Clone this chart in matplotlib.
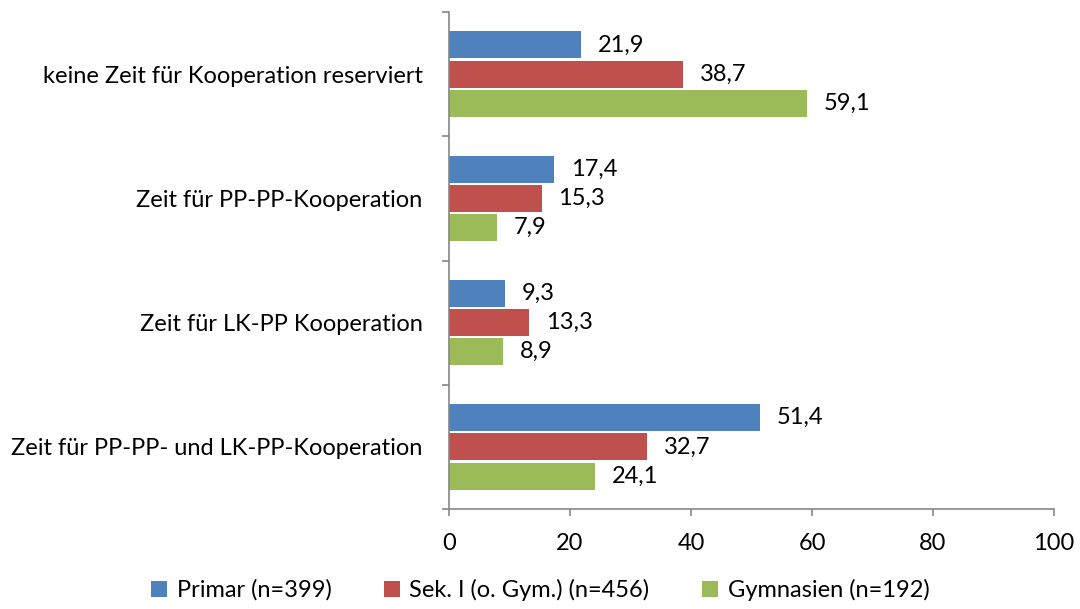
import matplotlib
matplotlib.use("Agg")
import matplotlib.pyplot as plt
import numpy as np

categories = ["keine Zeit für Kooperation reserviert",
              "Zeit für PP-PP-Kooperation",
              "Zeit für LK-PP Kooperation",
              "Zeit für PP-PP- und LK-PP-Kooperation"]
series_names = ["Primar (n=399)", "Sek. I (o. Gym.) (n=456)", "Gymnasien (n=192)"]
primar = [21.9, 17.4, 9.3, 51.4]
sek1 = [38.7, 15.3, 13.3, 32.7]
gymnasien = [59.1, 7.9, 8.9, 24.1]
colors = ["#4F81BD", "#C0504D", "#9BBB59"]
xticks = [0, 20, 40, 60, 80, 100]

plt.rcParams['font.family'] = ['Lato', 'DejaVu Sans']
fs = 17

fig = plt.figure(figsize=(10.8, 6.09), dpi=100)
ax = fig.add_axes([449/1080, 1-509/609, (1054-449)/1080, (509-12)/609])

n = len(categories)
y = np.arange(n)
h = 0.218
offs = [-0.235, 0.0, 0.235]
for vals, off, c, name in zip([primar, sek1, gymnasien], offs, colors, series_names):
    bars = ax.barh(y + off, vals, height=h, color=c, label=name, edgecolor='none')
    for b, v in zip(bars, vals):
        ax.annotate(f"{v:.1f}".replace('.', ','), (v, b.get_y() + b.get_height()/2),
                    xytext=(12, 0), textcoords='offset points', va='center', ha='left',
                    fontsize=fs)

ax.set_ylim(n - 0.5, -0.5)
ax.set_xlim(0, 100)
ax.set_xticks(xticks)
ax.set_xticklabels([str(t) for t in xticks], fontsize=fs)
ax.set_yticks(y)
ax.set_yticklabels(categories, fontsize=fs)
ax.set_yticks(np.arange(-0.5, n, 1.0), minor=True)
ax.tick_params(axis='y', which='major', length=0, pad=19)
ax.tick_params(axis='y', which='minor', length=5, color='#868686', width=1.2)
ax.tick_params(axis='x', length=5, color='#868686', width=1.2, pad=12)
for s in ['top', 'right']:
    ax.spines[s].set_visible(False)
for s in ['left', 'bottom']:
    ax.spines[s].set_color('#868686')
    ax.spines[s].set_linewidth(1.2)

leg = fig.legend(loc='center', bbox_to_anchor=(0.5, 1-590/609), ncol=3, frameon=False,
                 fontsize=fs, handlelength=0.7, handleheight=0.7, handletextpad=0.4,
                 columnspacing=2.2)

fig.savefig("out.png", dpi=100)
